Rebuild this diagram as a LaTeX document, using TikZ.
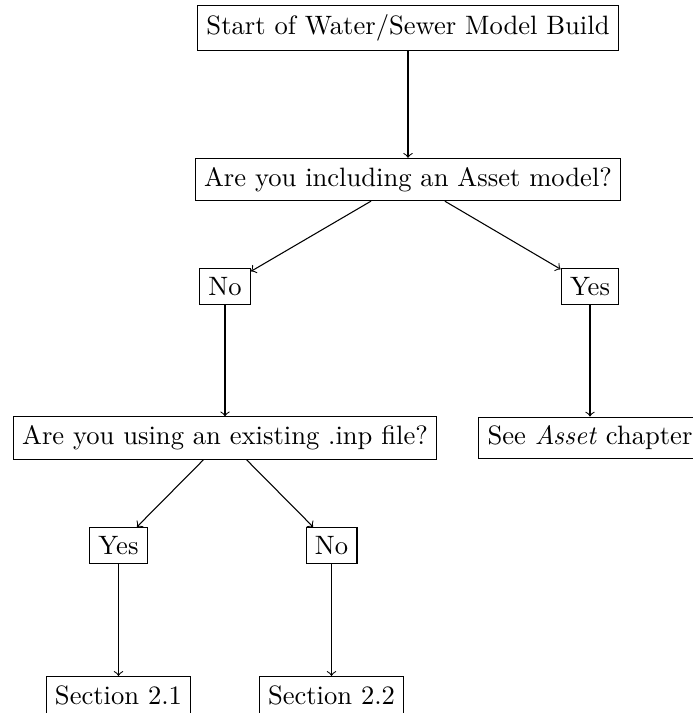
\documentclass[tikz,border=0pt]{standalone}
\begin{document}
\begin{tikzpicture}[x=0.3762pt,y=-0.3762pt,
  box/.style={draw,rectangle,inner sep=3.333pt},
  arr/.style={->}]
\useasboundingbox (0,0) rectangle (692,713);
\node[box] (start) at (408,28) {Start of Water/Sewer Model Build};
\node[box] (q1) at (408,179.5) {Are you including an Asset model?};
\node[box] (no1) at (225,286.5) {No};
\node[box] (yes1) at (590,286.5) {Yes};
\node[box] (q2) at (225,438) {Are you using an existing .inp file?};
\node[box] (asset) at (590,438) {See \textit{Asset} chapter};
\node[box] (yes2) at (118.5,545.5) {Yes};
\node[box] (no2) at (331.5,545.5) {No};
\node[box] (sec1) at (118.5,695) {Section 2.1};
\node[box] (sec2) at (331.5,695) {Section 2.2};
\draw[arr] (start) -- (q1);
\draw[arr] (q1) -- (no1);
\draw[arr] (q1) -- (yes1);
\draw[arr] (no1) -- (q2);
\draw[arr] (yes1) -- (asset);
\draw[arr] (q2) -- (yes2);
\draw[arr] (q2) -- (no2);
\draw[arr] (yes2) -- (sec1);
\draw[arr] (no2) -- (sec2);
\end{tikzpicture}
\end{document}
